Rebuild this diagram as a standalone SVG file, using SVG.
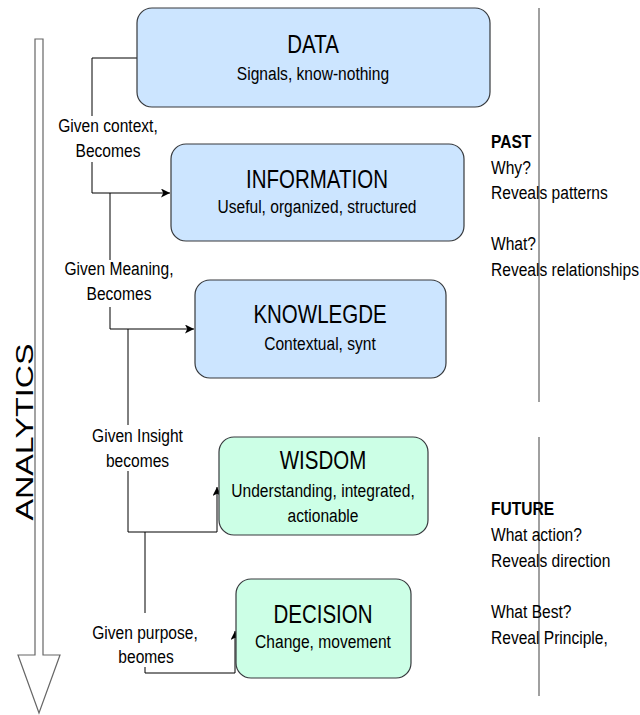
<svg xmlns="http://www.w3.org/2000/svg" width="640" height="715" viewBox="0 0 640 715">
<style>
text{font-family:"Liberation Sans",Arial,sans-serif;fill:#000}
.title{font-size:25px;text-anchor:middle}
.sub{font-size:19px;text-anchor:middle}
.lbl{font-size:19px;text-anchor:middle}
.side{font-size:19px}
.b{font-weight:bold}
.blue{fill:#cce5ff;stroke:#36393d;stroke-width:1.2}
.green{fill:#ccffe6;stroke:#36393d;stroke-width:1.2}
.ln{fill:none;stroke:#000;stroke-width:1}
.div{stroke:#808080;stroke-width:1.5}
</style>
<defs>
<marker id="ah" viewBox="0 0 10 10" refX="10" refY="5" markerWidth="9" markerHeight="9" markerUnits="userSpaceOnUse" orient="auto">
<path d="M0,0 L10,5 L0,10 L2.5,5 Z" fill="#000"/>
</marker>
</defs>
<rect width="640" height="715" fill="#fff"/>
<g id="analytics">
<path d="M35,39 L43,39 L43,655 L60,655 L39,713 L18,655 L35,655 Z" fill="#fff" stroke="#666" stroke-width="1.2"/>
<text transform="translate(33,432) rotate(-90)" font-size="24" text-anchor="middle" textLength="177" lengthAdjust="spacingAndGlyphs" fill="#222">ANALYTICS</text>
</g>
<g id="dividers">
<line class="div" x1="539" y1="8" x2="539" y2="402"/>
<line class="div" x1="539" y1="437" x2="539" y2="696"/>
</g>
<g id="connectors">
<path class="ln" d="M137,58 H92 V193 H170" marker-end="url(#ah)"/>
<path class="ln" d="M110,193 V329 H194" marker-end="url(#ah)"/>
<path class="ln" d="M128,329 V532 H217 V487" marker-end="url(#ah)"/>
<path class="ln" d="M145,532 V673 H235 V631" marker-end="url(#ah)"/>
<rect x="58" y="116" width="101" height="46" fill="#fff"/>
<rect x="64" y="260" width="111" height="47" fill="#fff"/>
<rect x="92" y="425" width="92" height="46" fill="#fff"/>
<rect x="92" y="613" width="106" height="54" fill="#fff"/>
<text class="lbl" transform="matrix(0.82 0 0 1 108 132)">Given context,</text>
<text class="lbl" transform="matrix(0.82 0 0 1 108 157)">Becomes</text>
<text class="lbl" transform="matrix(0.82 0 0 1 119 275)">Given Meaning,</text>
<text class="lbl" transform="matrix(0.82 0 0 1 119 300)">Becomes</text>
<text class="lbl" transform="matrix(0.82 0 0 1 137.5 442)">Given Insight</text>
<text class="lbl" transform="matrix(0.82 0 0 1 137.5 467)">becomes</text>
<text class="lbl" transform="matrix(0.82 0 0 1 145 639)">Given purpose,</text>
<text class="lbl" transform="matrix(0.82 0 0 1 146 663)">beomes</text>
</g>
<g id="data">
<rect class="blue" x="137" y="8" width="353" height="99" rx="15"/>
<text class="title" transform="matrix(0.82 0 0 1 313 53)">DATA</text>
<text class="sub" transform="matrix(0.82 0 0 1 313 80)">Signals, know-nothing</text>
</g>
<g id="information">
<rect class="blue" x="171" y="144" width="293" height="97" rx="15"/>
<text class="title" transform="matrix(0.82 0 0 1 317 188)">INFORMATION</text>
<text class="sub" transform="matrix(0.82 0 0 1 317 213)">Useful, organized, structured</text>
</g>
<g id="knowledge">
<rect class="blue" x="195" y="280" width="251" height="98" rx="15"/>
<text class="title" transform="matrix(0.82 0 0 1 320 323)">KNOWLEGDE</text>
<text class="sub" transform="matrix(0.82 0 0 1 320 350)">Contextual, synt</text>
</g>
<g id="wisdom">
<rect class="green" x="219" y="437" width="209" height="98" rx="15"/>
<text class="title" transform="matrix(0.82 0 0 1 323 469)">WISDOM</text>
<text class="sub" transform="matrix(0.82 0 0 1 323 497)">Understanding, integrated,</text>
<text class="sub" transform="matrix(0.82 0 0 1 323 522)">actionable</text>
</g>
<g id="decision">
<rect class="green" x="236" y="579" width="175" height="99" rx="15"/>
<text class="title" transform="matrix(0.82 0 0 1 323 623)">DECISION</text>
<text class="sub" transform="matrix(0.82 0 0 1 323 648)">Change, movement</text>
</g>
<g id="past">
<text class="side b" transform="matrix(0.82 0 0 1 491 148)">PAST</text>
<text class="side" transform="matrix(0.82 0 0 1 491 174)">Why?</text>
<text class="side" transform="matrix(0.82 0 0 1 491 199)">Reveals patterns</text>
<text class="side" transform="matrix(0.82 0 0 1 491 250)">What?</text>
<text class="side" transform="matrix(0.82 0 0 1 491 276)">Reveals relationships</text>
</g>
<g id="future">
<text class="side b" transform="matrix(0.82 0 0 1 491 515)">FUTURE</text>
<text class="side" transform="matrix(0.82 0 0 1 491 541)">What action?</text>
<text class="side" transform="matrix(0.82 0 0 1 491 567)">Reveals direction</text>
<text class="side" transform="matrix(0.82 0 0 1 491 618)">What Best?</text>
<text class="side" transform="matrix(0.82 0 0 1 491 644)">Reveal Principle,</text>
</g>
</svg>
